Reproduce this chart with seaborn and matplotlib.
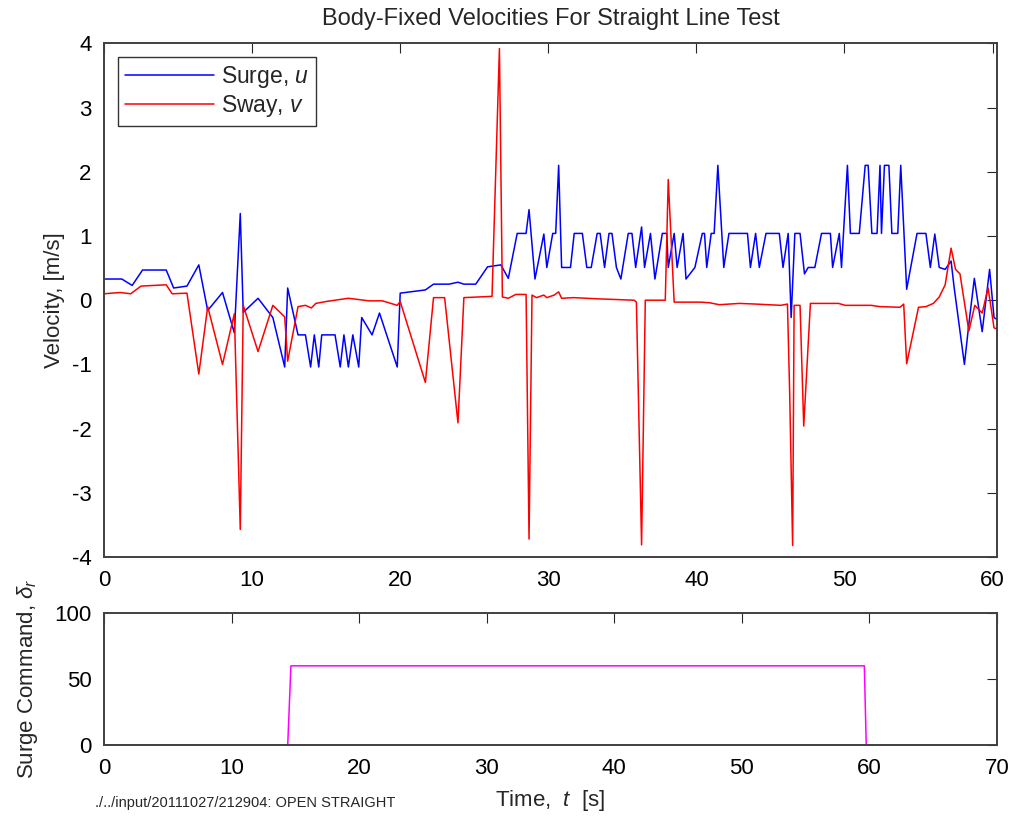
import matplotlib
matplotlib.use("Agg")
import matplotlib.pyplot as plt
import seaborn as sns

# Surge velocity u
t_surge = [0.0, 1.2, 1.9, 2.6, 4.2, 4.7, 5.6, 6.4, 7.0, 8.0,
           8.8, 9.2, 9.4, 10.4, 11.4, 12.2, 12.4, 13.1, 13.6, 13.95,
           14.2, 14.5, 14.7, 15.6, 15.95, 16.2, 16.5, 16.8, 17.2, 17.4,
           18.1, 18.6, 19.8, 20.0, 21.7, 22.25, 23.3, 23.9, 24.3, 25.1,
           25.9, 26.8, 27.3, 27.9, 28.5, 28.7, 29.1, 29.7, 29.9, 30.3,
           30.5, 30.7, 30.9, 31.5, 31.75, 32.3, 32.6, 32.9, 33.3, 33.5,
           33.8, 34.1, 34.3, 34.6, 34.9, 35.4, 35.65, 35.9, 36.3, 36.5,
           36.9, 37.2, 37.7, 38.0, 38.1, 38.5, 38.7, 39.1, 39.3, 39.9,
           40.4, 40.55, 40.7, 41.0, 41.2, 41.45, 41.85, 42.2, 43.45, 43.65,
           44.0, 44.25, 44.7, 45.6, 45.85, 46.2, 46.4, 46.65, 47.0, 47.3,
           47.55, 48.0, 48.45, 49.05, 49.2, 49.65, 49.8, 50.2, 50.4, 51.0,
           51.4, 51.6, 51.85, 52.2, 52.4, 52.5, 52.7, 53.0, 53.2, 53.6,
           53.8, 54.2, 54.9, 55.5, 55.8, 56.1, 56.4, 56.8, 57.2, 57.4,
           58.1, 58.4, 58.77, 59.3, 59.8, 60.1, 60.3]
u_surge = [0.33, 0.33, 0.23, 0.47, 0.47, 0.19, 0.22, 0.55, -0.16, 0.12,
           -0.51, 1.35, -0.19, 0.03, -0.27, -1.04, 0.19, -0.54, -0.54, -1.04,
           -0.54, -1.04, -0.54, -0.54, -1.04, -0.54, -1.04, -0.54, -1.04, -0.27,
           -0.54, -0.2, -1.04, 0.11, 0.16, 0.25, 0.25, 0.28, 0.25, 0.25,
           0.52, 0.55, 0.34, 1.04, 1.04, 1.41, 0.33, 1.03, 0.51, 1.04,
           1.04, 2.1, 0.51, 0.51, 1.04, 1.04, 0.51, 0.51, 1.04, 1.04,
           0.51, 1.04, 1.04, 0.51, 0.33, 1.04, 1.04, 0.51, 1.14, 0.51,
           1.04, 0.33, 1.04, 1.04, 0.51, 1.04, 0.51, 1.04, 0.33, 0.51,
           1.04, 1.04, 0.51, 1.04, 1.04, 2.1, 0.51, 1.04, 1.04, 0.51,
           1.04, 0.51, 1.04, 1.04, 0.51, 1.04, -0.27, 1.04, 1.04, 0.41,
           0.51, 0.51, 1.04, 1.04, 0.51, 1.04, 0.51, 2.1, 1.04, 1.04,
           2.1, 2.1, 1.04, 1.04, 2.1, 1.04, 2.1, 2.1, 1.04, 1.04,
           2.1, 0.17, 1.04, 1.04, 0.51, 1.03, 0.51, 0.48, 0.61, 0.21,
           -1.0, -0.37, 0.34, -0.49, 0.48, -0.27, -0.3]

# Sway velocity v
t_sway = [0.0, 1.1, 1.8, 2.5, 4.2, 4.6, 5.6, 6.4, 7.0, 8.0,
          8.8, 9.2, 9.4, 10.4, 11.4, 12.2, 12.4, 13.1, 13.6, 14.0,
          14.3, 15.0, 16.5, 17.9, 18.8, 19.8, 20.0, 21.7, 22.25, 23.0,
          23.9, 24.3, 26.2, 26.7, 26.9, 27.3, 27.8, 28.5, 28.7, 28.9,
          29.2, 29.7, 29.9, 30.4, 30.7, 30.9, 31.7, 33.5, 35.8, 35.95,
          36.3, 36.55, 37.9, 38.1, 38.5, 40.3, 40.9, 41.55, 42.9, 44.0,
          45.7, 46.15, 46.3, 46.5, 46.6, 47.0, 47.25, 47.7, 49.6, 50.05,
          51.8, 52.4, 53.75, 54.0, 54.2, 55.0, 55.5, 56.0, 56.4, 56.8,
          57.2, 57.5, 57.8, 58.4, 58.8, 59.3, 59.7, 60.1, 60.3]
v_sway = [0.1, 0.12, 0.1, 0.22, 0.24, 0.1, 0.11, -1.15, -0.1, -1.0,
          -0.21, -3.57, -0.08, -0.8, -0.08, -0.26, -0.95, -0.1, -0.08, -0.12,
          -0.05, -0.02, 0.03, -0.01, -0.01, -0.08, -0.02, -1.28, 0.04, 0.04,
          -1.91, 0.04, 0.06, 3.92, 0.05, 0.03, 0.09, 0.09, -3.72, 0.08,
          0.04, 0.08, 0.04, 0.08, 0.13, 0.03, 0.04, 0.02, 0.0, -0.03,
          -3.81, 0.0, 0.0, 1.88, -0.03, -0.03, -0.04, -0.07, -0.05, -0.06,
          -0.08, -0.06, -1.44, -3.82, -0.08, -0.08, -1.96, -0.05, -0.05, -0.08,
          -0.08, -0.1, -0.11, -0.06, -0.99, -0.11, -0.1, -0.05, 0.05, 0.24,
          0.81, 0.48, 0.41, -0.48, -0.08, -0.2, 0.19, -0.43, -0.45]

# Surge command
t_cmd = [0.0, 14.4, 14.65, 59.6, 59.75, 60.3]
cmd = [0, 0, 60, 60, 0, 0]

sns.set_style("white")
plt.rcParams["font.family"] = ["Liberation Sans", "DejaVu Sans"]
plt.rcParams["mathtext.fontset"] = "custom"
plt.rcParams["mathtext.it"] = "Liberation Sans:italic"
plt.rcParams["mathtext.rm"] = "Liberation Sans"
plt.rcParams["axes.unicode_minus"] = False

fig = plt.figure(figsize=(10.13, 8.18), dpi=100)
ax1 = fig.add_axes([0.1027, 0.319, 0.8815, 0.628])
ax2 = fig.add_axes([0.1027, 0.0892, 0.8815, 0.1614])

sns.lineplot(x=t_surge, y=u_surge, ax=ax1, color="#0000FF", lw=1.1,
             estimator=None, sort=False, label="Surge, $u$", zorder=1.5)
sns.lineplot(x=t_sway, y=v_sway, ax=ax1, color="#FF0000", lw=1.1,
             estimator=None, sort=False, label="Sway, $v$", zorder=1.5)
ax1.set_xlim(0, 60.3)
ax1.set_ylim(-4, 4)
ax1.set_xticks(range(0, 61, 10))
ax1.set_yticks(range(-4, 5))
ax1.set_title("Body-Fixed Velocities For Straight Line Test", fontsize=17, pad=13)
ax1.set_ylabel("Velocity, [m/s]", fontsize=16, labelpad=5)
leg = ax1.legend(loc="upper left", fontsize=16.5, frameon=True, fancybox=False,
                 handlelength=3.9, handletextpad=0.3, borderaxespad=0.6,
                 borderpad=0.3, labelspacing=0.15)
leg.get_frame().set_edgecolor("black")
leg.get_frame().set_linewidth(1.0)

sns.lineplot(x=t_cmd, y=cmd, ax=ax2, color="#FF00FF", lw=1.1,
             estimator=None, sort=False, zorder=1.5)
ax2.set_xlim(0, 70)
ax2.set_ylim(0, 100)
ax2.set_xticks(range(0, 71, 10))
ax2.set_yticks([0, 50, 100])
ax2.set_ylabel("Surge Command, $\\delta_r$", fontsize=16, labelpad=10)
ax2.set_xlabel("Time,  $t$  [s]", fontsize=16, labelpad=7)

for ax in (ax1, ax2):
    ax.tick_params(direction="in", length=7, width=0.8, labelsize=16, pad=9,
                   top=True, right=True, colors="#262626", labelcolor="black")
    for s in ax.spines.values():
        s.set_color("#404040")
        s.set_linewidth(1.4)
        s.set_zorder(3)

fig.text(0.094, 0.013, "./../input/20111027/212904: OPEN STRAIGHT", fontsize=10.5)

fig.savefig("out.png", dpi=100)
